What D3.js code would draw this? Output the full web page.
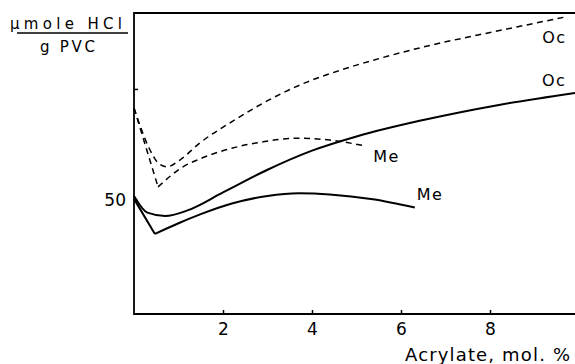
<!DOCTYPE html>
<html>
<head>
<meta charset="utf-8">
<script src="https://cdn.jsdelivr.net/npm/d3@7"></script>
<style>
  body { margin: 0; background: #fff; }
  svg { display: block; font-family: "DejaVu Sans", sans-serif; }
</style>
</head>
<body>
<div id="chart"></div>
<script>
(function () {
  var W = 575, H = 364;

  // acrylate content, mol %, and HCl evolved (umole / g PVC)
  var ocSolidX = [0, 0.3, 0.7, 1.2, 2.0, 3.0, 4.0, 5.0, 6.5, 8.2, 9.91];
  var ocSolidY = [51.8, 44.3, 42.8, 45.3, 53.4, 63.6, 72.2, 78.6, 86.0, 92.8, 98.2];

  var meSolidX = [0, 0.47, 1.0, 1.5, 2.2, 3.0, 3.7, 4.4, 5.37, 6.31];
  var meSolidY = [50.5, 34.7, 39.5, 43.6, 48.4, 51.8, 53.0, 52.5, 50.3, 46.6];

  var ocDashX = [0, 0.36, 0.54, 0.74, 1.03, 1.48, 2.22, 2.99, 3.73, 4.63, 5.53, 6.65, 7.78, 8.67, 9.69];
  var ocDashY = [91.4, 72.5, 66.7, 64.9, 68.0, 75.7, 85.5, 94.6, 101.8, 108.4, 113.8, 119.6, 124.5, 128.2, 132.4];

  var meDashX = [0, 0.54, 1.10, 1.48, 2.22, 2.90, 3.66, 4.40, 5.15];
  var meDashY = [91.4, 55.9, 64.9, 68.5, 73.4, 76.2, 77.8, 77.0, 74.5];

  var xTicks = [2, 4, 6, 8];
  var yTicks = [50, 100];
  var yTickLabels = ['50', ''];

  var series = [
    { name: 'Oc', xs: ocSolidX, ys: ocSolidY, dash: null, corner: 0, dx: -33, dy: -7 },
    { name: 'Me', xs: meSolidX, ys: meSolidY, dash: null, corner: 1, dx: 2, dy: -8 },
    { name: 'Oc', xs: ocDashX, ys: ocDashY, dash: '6,4.5', corner: 0, dx: -23, dy: 26 },
    { name: 'Me', xs: meDashX, ys: meDashY, dash: '6,4.5', corner: 1, dx: 10, dy: 16 }
  ];

  var left = 134, right = 575, top = 13, bottom = 314;

  var x = d3.scaleLinear().domain([0, 9.91]).range([left, right]);
  var y = d3.scaleLinear().domain([-1.35, 134.2]).range([bottom, top]);

  var svg = d3.select('#chart').append('svg')
      .attr('width', W).attr('height', H);

  // frame: left, top, bottom
  svg.append('path')
      .attr('d', 'M' + right + ',' + top + 'H' + left + 'V' + bottom + 'H' + right)
      .attr('fill', 'none').attr('stroke', '#000').attr('stroke-width', 1.8);

  var xAxis = svg.append('g')
      .attr('transform', 'translate(0,' + bottom + ')')
      .call(d3.axisBottom(x).tickValues(xTicks).tickSize(-4).tickPadding(9)
        .tickFormat(d3.format('d')));
  xAxis.select('.domain').remove();
  xAxis.selectAll('line').attr('stroke-width', 1.5);
  xAxis.selectAll('text').attr('font-size', 17).attr('fill', '#000')
      .attr('font-family', '"DejaVu Sans", sans-serif');

  var yAxis = svg.append('g')
      .attr('transform', 'translate(' + left + ',0)')
      .call(d3.axisLeft(y).tickValues(yTicks).tickSize(-4).tickPadding(8)
        .tickFormat(function (d, i) { return yTickLabels[i]; }));
  yAxis.select('.domain').remove();
  yAxis.selectAll('line').attr('stroke-width', 1.5);
  yAxis.selectAll('text').attr('font-size', 17).attr('fill', '#000')
      .attr('font-family', '"DejaVu Sans", sans-serif');

  var smooth = d3.line().x(function (p) { return x(p[0]); })
      .y(function (p) { return y(p[1]); }).curve(d3.curveMonotoneX);
  var straight = d3.line().x(function (p) { return x(p[0]); })
      .y(function (p) { return y(p[1]); });

  series.forEach(function (s) {
    var pts = s.xs.map(function (v, i) { return [v, s.ys[i]]; });
    var d = '';
    if (s.corner > 0) d += straight(pts.slice(0, s.corner + 1));
    d += smooth(pts.slice(s.corner));
    svg.append('path')
        .attr('d', d)
        .attr('fill', 'none')
        .attr('stroke', '#000')
        .attr('stroke-width', s.dash ? 1.5 : 2)
        .attr('stroke-dasharray', s.dash);

    var last = pts[pts.length - 1];
    svg.append('text')
        .attr('x', x(last[0]) + s.dx)
        .attr('y', y(last[1]) + s.dy)
        .attr('font-size', 16)
        .attr('letter-spacing', 1.5)
        .text(s.name);
  });

  // y-axis unit as a fraction
  svg.append('text').attr('x', 10).attr('y', 29).attr('font-size', 15)
      .attr('textLength', 112).attr('lengthAdjust', 'spacing')
      .text('\u03BCmole HCl');
  svg.append('line').attr('x1', 17).attr('x2', 128).attr('y1', 33).attr('y2', 33)
      .attr('stroke', '#000').attr('stroke-width', 1.3);
  svg.append('text').attr('x', 40).attr('y', 52).attr('font-size', 15)
      .attr('textLength', 55).attr('lengthAdjust', 'spacing')
      .text('g PVC');

  svg.append('text').attr('x', 405).attr('y', 361).attr('font-size', 18)
      .attr('textLength', 165).attr('lengthAdjust', 'spacing')
      .text('Acrylate, mol. %');
})();
</script>
</body>
</html>
